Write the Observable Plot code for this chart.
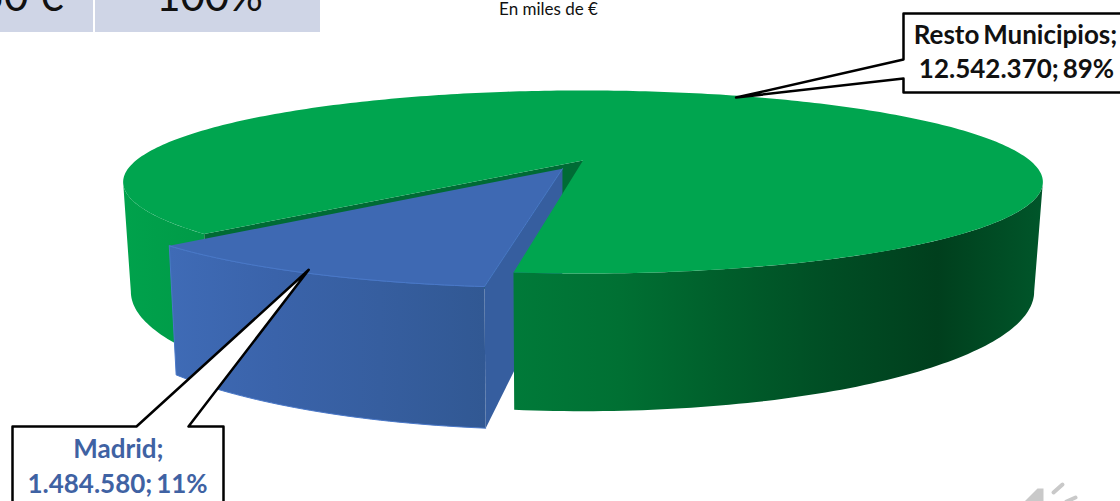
<!DOCTYPE html>
<html>
<head>
<meta charset="utf-8">
<script src="https://cdn.jsdelivr.net/npm/d3@7"></script>
<script src="https://cdn.jsdelivr.net/npm/@observablehq/plot@0.6"></script>
<style>html,body{margin:0;padding:0;background:#fff;overflow:hidden}
[font-size="26"]{word-spacing:-2.5px}</style>
</head>
<body>
<div id="chart"></div>
<script>
// Data
const categories = ["Madrid", "Resto Municipios"];
const values = [1484580, 12542370];
const note = "En miles de €";
const tableShare = "100%";

// Layout of the pie
const startAngle = 186.85, explode = 0.103, persp = 0.235;
const topPlane = {cx: 582.5, cy: 160, sx: 447, sy: 86.5};
const bottomPlane = {cx: 582, cy: 263, sx: 439, sy: 113};
const restoTipAngle = 25.2;

const W = 1120, H = 501, rad = Math.PI / 180;
const total = d3.sum(values);
const fmt = d3.formatLocale({decimal: ",", thousands: ".", grouping: [3], currency: ["", " €"]}).format(",d");
const madridSpan = values[0] / total * 360;
const endMadrid = startAngle + madridSpan;
const midMadrid = startAngle + madridSpan / 2;
const extremeA = Math.acos(-persp) / rad;          // angle of the widest point, right side
const off = [explode * Math.sin(midMadrid * rad), explode * Math.cos(midMadrid * rad)];

function pt(plane, a, r = 1, d = [0, 0]) {
  const X = r * Math.sin(a * rad) + d[0], Y = r * Math.cos(a * rad) + d[1];
  const w = 1 + persp * Y;
  return {x: plane.cx + plane.sx * X / w, y: plane.cy - plane.sy * Y / w};
}
function arc(plane, a0, a1, d) {
  const n = Math.max(2, Math.ceil(Math.abs(a1 - a0)));
  return d3.range(n + 1).map(i => pt(plane, a0 + (a1 - a0) * i / n, 1, d));
}
const T = topPlane, B = bottomPlane;

const greenTop = [pt(T, 0, 0), ...arc(T, endMadrid, startAngle + 360)];
const greenCut = [pt(T, 0, 0), pt(T, endMadrid), pt(B, endMadrid), pt(B, 0, 0)];
const greenWallLeft = [...arc(T, endMadrid, 360 - extremeA), ...arc(B, 360 - extremeA, endMadrid)];
const greenWallRight = [...arc(T, extremeA, startAngle), ...arc(B, startAngle, extremeA)];
const blueTop = [pt(T, 0, 0, off), ...arc(T, startAngle, endMadrid, off)];
const blueWall = [...arc(T, startAngle, endMadrid, off), ...arc(B, endMadrid, startAngle, off)];
const blueSide = [pt(T, 0, 0, off), pt(T, startAngle, 1, off), pt(B, startAngle, 1, off), pt(B, 0, 0, off)];

// Callouts
const restoTip = pt(T, restoTipAngle, 0.97);
const madridTip = pt(T, midMadrid, 0.98, off);
const restoBox = {x0: 903, x1: 1130, y0: 13, y1: 92, p0: 59, p1: 78};
const madridBox = {x0: 12, x1: 223, y0: 426, y1: 510, p0: 136, p1: 188};
const restoCallout = [
  {x: restoBox.x0, y: restoBox.y0}, {x: restoBox.x1, y: restoBox.y0}, {x: restoBox.x1, y: restoBox.y1},
  {x: restoBox.x0, y: restoBox.y1}, {x: restoBox.x0, y: restoBox.p1}, restoTip,
  {x: restoBox.x0, y: restoBox.p0}, {x: restoBox.x0, y: restoBox.y0}
];
const madridCallout = [
  {x: madridBox.x0, y: madridBox.y0}, {x: madridBox.p0, y: madridBox.y0}, madridTip,
  {x: madridBox.p1, y: madridBox.y0}, {x: madridBox.x1, y: madridBox.y0}, {x: madridBox.x1, y: madridBox.y1},
  {x: madridBox.x0, y: madridBox.y1}, {x: madridBox.x0, y: madridBox.y0}
];
const pct = v => Math.round(v / total * 100) + "%";

// Table fragment and speaker icon
const cells = [{x1: 0, x2: 93, y1: 0, y2: 32}, {x1: 95, x2: 320, y1: 0, y2: 32}];
const speaker = [{x: 1022, y: 503}, {x: 1037, y: 488}, {x: 1043, y: 488}, {x: 1043, y: 503}];
const wave1 = [{x: 1053, y: 492}, {x: 1062, y: 484}];
const wave2 = [{x: 1066, y: 501}, {x: 1075, y: 497}];

const COL = {
  greenTop: "#00a54f", greenCut: "#006b35",
  blueTop: "#3e69b3", blueEdge: "#4a78c8", blueSide: "#365e9f", blueText: "#3f62a3",
  cell: "#cfd5e6", icon: "#c9c9c9"
};
const grads = {
  gGreenR: ["#007a39", "#007033", "#005e2b", "#004d24", "#003f1d", "#00562a"],
  gGreenL: ["#00a24c", "#009a47"],
  gBlue: ["#3f6bb6", "#3a63aa", "#365e9f", "#315893"]
};
const defs = () => {
  const d = d3.create("svg:defs");
  for (const [id, stops] of Object.entries(grads)) {
    const g = d.append("linearGradient").attr("id", id).attr("x1", 0).attr("x2", 1).attr("y1", 0).attr("y2", 0);
    stops.forEach((c, i) => g.append("stop").attr("offset", i / (stops.length - 1)).attr("stop-color", c));
  }
  return d.node();
};
const poly = (data, fill, extra = {}) => Plot.line(data, {x: "x", y: "y", fill, stroke: "none", curve: "linear", ...extra});
const font = "Lato, 'Open Sans', sans-serif";

const chart = Plot.plot({
  width: W, height: H, margin: 0,
  x: {domain: [0, W], axis: null},
  y: {domain: [H, 0], axis: null},
  style: {background: "#fff", fontFamily: font},
  marks: [
    defs,
    Plot.rectY(cells, {x1: "x1", x2: "x2", y1: "y1", y2: "y2", fill: COL.cell}),
    Plot.text([fmt(total) + " €"], {x: 63, y: 10, text: d => d, textAnchor: "end", fontSize: 42, fill: "#111", lineAnchor: "bottom"}),
    Plot.text([tableShare], {x: 209, y: 10, text: d => d, fontSize: 42, fill: "#111", lineAnchor: "bottom"}),
    Plot.text([note], {x: 548, y: 9, text: d => d, fontSize: 17, fill: "#111"}),

    poly(greenWallLeft, "url(#gGreenL)"),
    poly(greenCut, COL.greenCut),
    poly(blueSide, COL.blueSide),
    poly(blueWall, "url(#gBlue)", {stroke: COL.blueEdge, strokeWidth: 1}),
    poly(blueTop, COL.blueTop, {stroke: COL.blueEdge, strokeWidth: 1}),
    poly(greenWallRight, "url(#gGreenR)"),
    poly(greenTop, COL.greenTop),

    poly(madridCallout, "#fff", {stroke: "#000", strokeWidth: 2.5}),
    poly(restoCallout, "#fff", {stroke: "#000", strokeWidth: 2.5}),
    Plot.text([categories[1] + ";"], {x: 1015, y: 35, text: d => d, fontSize: 26, fontWeight: 700, fill: "#111"}),
    Plot.text([fmt(values[1]) + "; " + pct(values[1])], {x: 1016, y: 69, text: d => d, fontSize: 26, fontWeight: 700, fill: "#111"}),
    Plot.text([categories[0] + ";"], {x: 118, y: 449, text: d => d, fontSize: 26, fontWeight: 700, fill: COL.blueText}),
    Plot.text([fmt(values[0]) + "; " + pct(values[0])], {x: 117, y: 484, text: d => d, fontSize: 26, fontWeight: 700, fill: COL.blueText}),

    poly(speaker, COL.icon),
    Plot.line(wave1, {x: "x", y: "y", stroke: COL.icon, strokeWidth: 4, strokeLinecap: "round"}),
    Plot.line(wave2, {x: "x", y: "y", stroke: COL.icon, strokeWidth: 4, strokeLinecap: "round"})
  ]
});
document.getElementById("chart").append(chart);
</script>
</body>
</html>
